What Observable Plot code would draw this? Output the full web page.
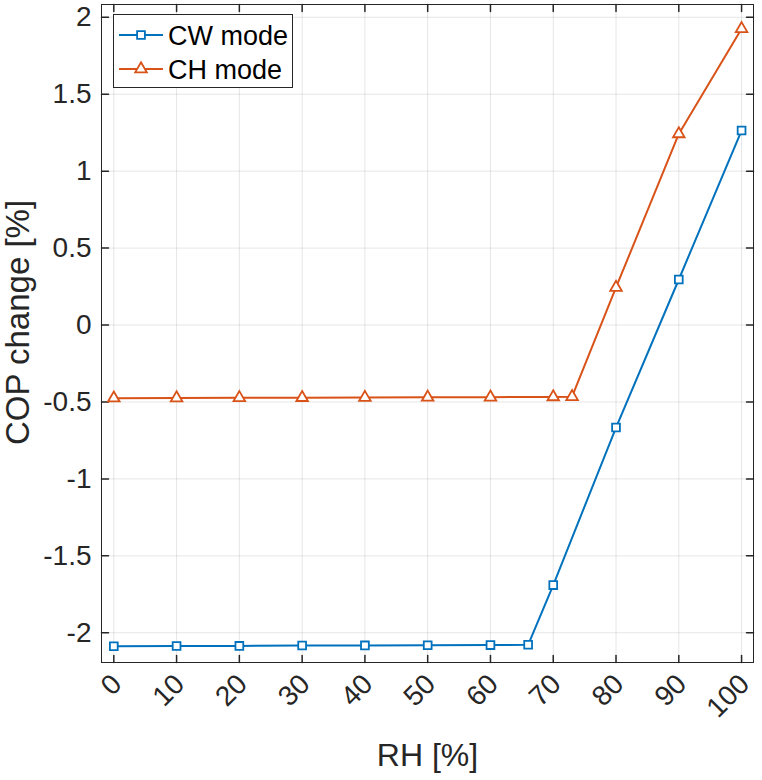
<!DOCTYPE html>
<html>
<head>
<meta charset="utf-8">
<script src="https://cdn.jsdelivr.net/npm/d3@7"></script>
<script src="https://cdn.jsdelivr.net/npm/@observablehq/plot@0.6"></script>
<style>
  body { margin: 0; background: #fff; }
  #chart { position: relative; width: 762px; height: 780px; font-family: "Liberation Sans", Arial, sans-serif; }
  #legend { position: absolute; left: 113px; top: 14px; background: #fff; border: 1px solid #262626; box-sizing: border-box; }
</style>
</head>
<body>
<div id="chart"></div>
<script>
// COP change versus relative humidity for the two operating modes
const rhTicks = [0, 10, 20, 30, 40, 50, 60, 70, 80, 90, 100];
const copTicks = [-2, -1.5, -1, -0.5, 0, 0.5, 1, 1.5, 2];

const cwRH  = [0, 10, 20, 30, 40, 50, 60, 66, 70, 80, 90, 100];
const cwCOP = [-2.087, -2.086, -2.085, -2.083, -2.082, -2.081, -2.080, -2.078, -1.69, -0.666, 0.296, 1.264];

const chRH  = [0, 10, 20, 30, 40, 50, 60, 70, 73, 80, 90, 100];
const chCOP = [-0.475, -0.474, -0.473, -0.472, -0.471, -0.470, -0.469, -0.467, -0.466, 0.244, 1.242, 1.925];

const seriesNames = ["CW mode", "CH mode"];
const colors = ["#0072BD", "#D95319"];
const xLabel = "RH [%]";
const yLabel = "COP change [%]";

const cw = cwRH.map((x, i) => ({x, y: cwCOP[i]}));
const ch = chRH.map((x, i) => ({x, y: chCOP[i]}));

const ink = "#262626";
const font = "Liberation Sans, Arial, sans-serif";

// inward tick stroke drawn by the vector mark
const tickShape = { draw(ctx, l) { ctx.moveTo(0, 0); ctx.lineTo(0, -l); } };
const tickLen = 7;

const chart = Plot.plot({
  width: 762,
  height: 780,
  marginLeft: 101,
  marginRight: 9,
  marginTop: 4,
  marginBottom: 118,
  style: { fontFamily: font, fontSize: "28px", color: ink, background: "#fff" },
  x: { domain: [-1.96, 101.9], ticks: rhTicks },
  y: { domain: [-2.193, 2.083], ticks: copTicks },
  marks: [
    Plot.gridX(rhTicks, { stroke: "#000", strokeOpacity: 0.1 }),
    Plot.gridY(copTicks, { stroke: "#000", strokeOpacity: 0.1 }),
    Plot.axisX(rhTicks, {
      tickSize: 0, tickPadding: 17, tickRotate: -45, fontSize: 28, fill: ink, dx: 3, label: null
    }),
    Plot.axisY(copTicks, {
      tickSize: 0, tickPadding: 10, fontSize: 28, fill: ink,
      tickFormat: d => String(d), label: null
    }),
    Plot.text([xLabel], { text: d => d, frameAnchor: "bottom", dy: 103, fontSize: 32, fill: ink }),
    Plot.text([yLabel], { text: d => d, frameAnchor: "left", textAnchor: "middle", dx: -83, dy: -11, rotate: -90, fontSize: 33, fill: ink }),
    // inward ticks on all four sides
    Plot.vector(rhTicks, { x: d => d, frameAnchor: "bottom", length: tickLen, rotate: 0, anchor: "start", shape: tickShape, stroke: ink }),
    Plot.vector(rhTicks, { x: d => d, frameAnchor: "top", length: tickLen, rotate: 180, anchor: "start", shape: tickShape, stroke: ink }),
    Plot.vector(copTicks, { y: d => d, frameAnchor: "left", length: tickLen, rotate: 90, anchor: "start", shape: tickShape, stroke: ink }),
    Plot.vector(copTicks, { y: d => d, frameAnchor: "right", length: tickLen, rotate: -90, anchor: "start", shape: tickShape, stroke: ink }),
    Plot.line(cw, { x: "x", y: "y", stroke: colors[0], strokeWidth: 2 }),
    Plot.line(ch, { x: "x", y: "y", stroke: colors[1], strokeWidth: 2 }),
    Plot.dot(cw, { x: "x", y: "y", symbol: "square", r: 4.4, fill: "#fff", stroke: colors[0], strokeWidth: 1.8 }),
    Plot.dot(ch, { x: "x", y: "y", symbol: "triangle", r: 4.3, fill: "#fff", stroke: colors[1], strokeWidth: 1.8 }),
    Plot.frame({ stroke: ink, strokeWidth: 1 })
  ]
});

const root = document.getElementById("chart");
root.appendChild(chart);

// legend box inside the upper left corner of the axes
const legend = d3.select(root).append("div").attr("id", "legend")
  .style("width", "180px").style("height", "74px");
const lsvg = legend.append("svg").attr("width", 178).attr("height", 72);
seriesNames.forEach((name, i) => {
  const cy = 20 + i * 34;
  const g = lsvg.append("g");
  g.append("line").attr("x1", 5).attr("x2", 49).attr("y1", cy).attr("y2", cy)
    .attr("stroke", colors[i]).attr("stroke-width", 2);
  g.append("path")
    .attr("d", d3.symbol(i === 0 ? d3.symbolSquare : d3.symbolTriangle, Math.PI * (i === 0 ? 4.4 : 4.3) ** 2)())
    .attr("transform", `translate(27,${cy})`)
    .attr("fill", "#fff").attr("stroke", colors[i]).attr("stroke-width", 1.8);
  g.append("text").attr("x", 54).attr("y", cy).attr("dy", "0.36em")
    .attr("font-family", font).attr("font-size", 27).attr("fill", "#000")
    .text(name);
});
</script>
</body>
</html>
